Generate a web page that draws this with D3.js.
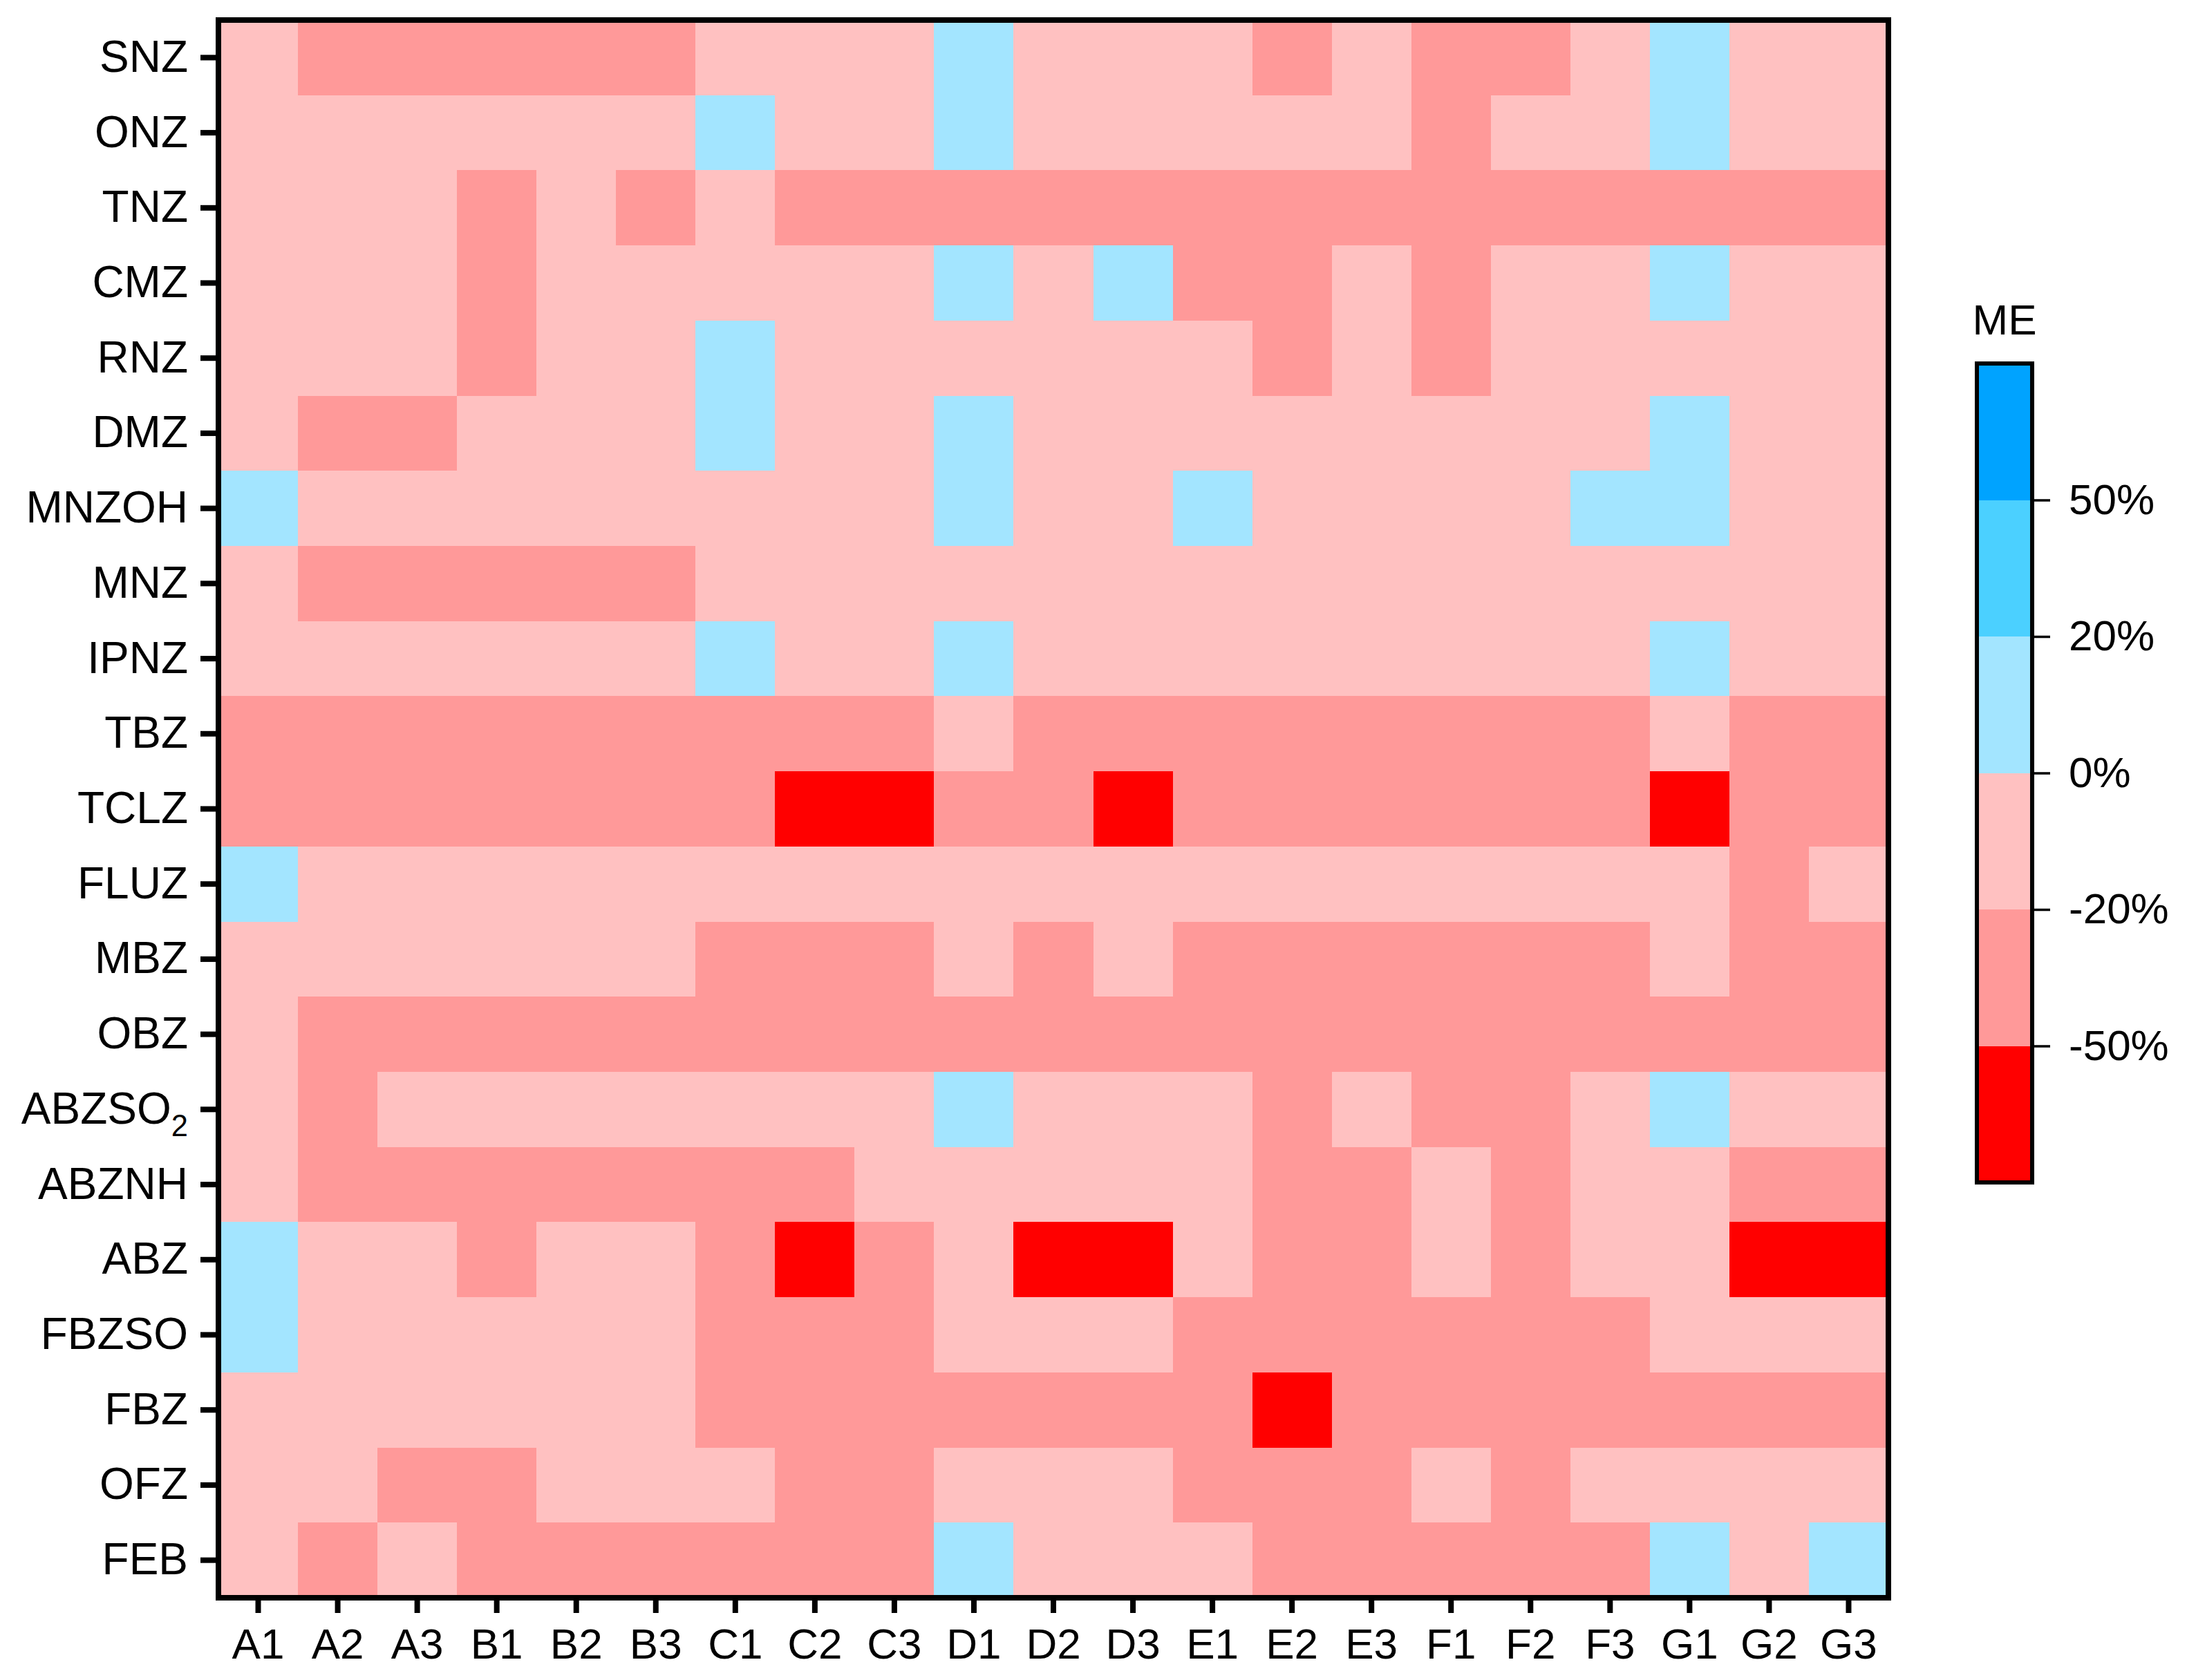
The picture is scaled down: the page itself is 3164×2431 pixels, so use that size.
<!DOCTYPE html>
<html>
<head>
<meta charset="utf-8">
<script src="https://cdn.jsdelivr.net/npm/d3@7"></script>
<style>
  html, body { margin: 0; padding: 0; background: #fff; }
  svg { display: block; }
  text { font-family: "Liberation Sans", Arial, sans-serif; fill: #000; }
</style>
</head>
<body>
<script>
// ---------- DATA ----------
const rowLabels = ["SNZ","ONZ","TNZ","CMZ","RNZ","DMZ","MNZOH","MNZ","IPNZ","TBZ","TCLZ",
                   "FLUZ","MBZ","OBZ","ABZSO2","ABZNH","ABZ","FBZSO","FBZ","OFZ","FEB"];
const colLabels = ["A1","A2","A3","B1","B2","B3","C1","C2","C3","D1","D2","D3",
                   "E1","E2","E3","F1","F2","F3","G1","G2","G3"];
// Matrix effect (%) estimated from the binned colours
const meValues = [
  [-10,-35,-35,-35,-35,-35,-10,-10,-10, 10,-10,-10,-10,-35,-10,-35,-35,-10, 10,-10,-10], // SNZ
  [-10,-10,-10,-10,-10,-10, 10,-10,-10, 10,-10,-10,-10,-10,-10,-35,-10,-10, 10,-10,-10], // ONZ
  [-10,-10,-10,-35,-10,-35,-10,-35,-35,-35,-35,-35,-35,-35,-35,-35,-35,-35,-35,-35,-35], // TNZ
  [-10,-10,-10,-35,-10,-10,-10,-10,-10, 10,-10, 10,-35,-35,-10,-35,-10,-10, 10,-10,-10], // CMZ
  [-10,-10,-10,-35,-10,-10, 10,-10,-10,-10,-10,-10,-10,-35,-10,-35,-10,-10,-10,-10,-10], // RNZ
  [-10,-35,-35,-10,-10,-10, 10,-10,-10, 10,-10,-10,-10,-10,-10,-10,-10,-10, 10,-10,-10], // DMZ
  [ 10,-10,-10,-10,-10,-10,-10,-10,-10, 10,-10,-10, 10,-10,-10,-10,-10, 10, 10,-10,-10], // MNZOH
  [-10,-35,-35,-35,-35,-35,-10,-10,-10,-10,-10,-10,-10,-10,-10,-10,-10,-10,-10,-10,-10], // MNZ
  [-10,-10,-10,-10,-10,-10, 10,-10,-10, 10,-10,-10,-10,-10,-10,-10,-10,-10, 10,-10,-10], // IPNZ
  [-35,-35,-35,-35,-35,-35,-35,-35,-35,-10,-35,-35,-35,-35,-35,-35,-35,-35,-10,-35,-35], // TBZ
  [-35,-35,-35,-35,-35,-35,-35,-60,-60,-35,-35,-60,-35,-35,-35,-35,-35,-35,-60,-35,-35], // TCLZ
  [ 10,-10,-10,-10,-10,-10,-10,-10,-10,-10,-10,-10,-10,-10,-10,-10,-10,-10,-10,-35,-10], // FLUZ
  [-10,-10,-10,-10,-10,-10,-35,-35,-35,-10,-35,-10,-35,-35,-35,-35,-35,-35,-10,-35,-35], // MBZ
  [-10,-35,-35,-35,-35,-35,-35,-35,-35,-35,-35,-35,-35,-35,-35,-35,-35,-35,-35,-35,-35], // OBZ
  [-10,-35,-10,-10,-10,-10,-10,-10,-10, 10,-10,-10,-10,-35,-10,-35,-35,-10, 10,-10,-10], // ABZSO2
  [-10,-35,-35,-35,-35,-35,-35,-35,-10,-10,-10,-10,-10,-35,-35,-10,-35,-10,-10,-35,-35], // ABZNH
  [ 10,-10,-10,-35,-10,-10,-35,-60,-35,-10,-60,-60,-10,-35,-35,-10,-35,-10,-10,-60,-60], // ABZ
  [ 10,-10,-10,-10,-10,-10,-35,-35,-35,-10,-10,-10,-35,-35,-35,-35,-35,-35,-10,-10,-10], // FBZSO
  [-10,-10,-10,-10,-10,-10,-35,-35,-35,-35,-35,-35,-35,-60,-35,-35,-35,-35,-35,-35,-35], // FBZ
  [-10,-10,-35,-35,-10,-10,-10,-35,-35,-10,-10,-10,-35,-35,-35,-10,-35,-10,-10,-10,-10], // OFZ
  [-10,-35,-10,-35,-35,-35,-35,-35,-35, 10,-10,-10,-10,-35,-35,-35,-35,-35, 10,-10, 10]  // FEB
];
const thresholds = [-50, -20, 0, 20, 50];
const thresholdLabels = ["-50%", "-20%", "0%", "20%", "50%"];
const binColors = ["#FF0000", "#FF9999", "#FFC1C1", "#A3E5FF", "#4BD0FF", "#00A3FF"];
const legendTitle = "ME";

// ---------- CHART ----------
const W = 3164, H = 2431;
const svg = d3.select("body").append("svg").attr("width", W).attr("height", H);
svg.append("rect").attr("width", W).attr("height", H).attr("fill", "#fff");

const plot = { left: 316, right: 2732, top: 29, bottom: 2312 };
const x = d3.scaleBand().domain(colLabels).range([plot.left, plot.right]).padding(0);
const y = d3.scaleBand().domain(rowLabels).range([plot.top, plot.bottom]).padding(0);
const color = d3.scaleThreshold().domain(thresholds).range(binColors);

const cells = [];
rowLabels.forEach((r, i) => colLabels.forEach((c, j) => cells.push({ r, c, v: meValues[i][j] })));

svg.append("g").selectAll("rect").data(cells).join("rect")
  .attr("x", d => x(d.c))
  .attr("y", d => y(d.r))
  .attr("width", x.bandwidth() + 0.6)
  .attr("height", y.bandwidth() + 0.6)
  .attr("fill", d => color(d.v))
  .attr("shape-rendering", "crispEdges");

const FS = 62, FSY = 64;

// Y axis
const gy = svg.append("g").attr("transform", `translate(${plot.left},0)`)
  .call(d3.axisLeft(y).tickSize(26).tickPadding(18));
gy.select(".domain").remove();
gy.selectAll(".tick line").attr("stroke", "#000").attr("stroke-width", 8);
gy.selectAll(".tick text").attr("font-size", FSY).style("font-family", "'Liberation Sans', Arial, sans-serif")
  .each(function(d) {
    const m = /^(.*?)(\d+)$/.exec(d);
    if (m) {
      const t = d3.select(this).text(null);
      t.append("tspan").text(m[1]);
      t.append("tspan").attr("font-size", FSY * 0.68).attr("dy", "0.42em").text(m[2]);
    }
  });

// X axis
const gx = svg.append("g").attr("transform", `translate(0,${plot.bottom})`)
  .call(d3.axisBottom(x).tickSize(22).tickPadding(22));
gx.select(".domain").remove();
gx.selectAll(".tick line").attr("stroke", "#000").attr("stroke-width", 8);
gx.selectAll(".tick text").attr("font-size", FS).style("font-family", "'Liberation Sans', Arial, sans-serif");

// Frame
svg.append("rect")
  .attr("x", plot.left).attr("y", plot.top)
  .attr("width", plot.right - plot.left).attr("height", plot.bottom - plot.top)
  .attr("fill", "none").attr("stroke", "#000").attr("stroke-width", 8);

// ---------- LEGEND ----------
const leg = { left: 2860, right: 2940, top: 526, bottom: 1711 };
const ly = d3.scaleLinear().domain([0, binColors.length]).range([leg.bottom, leg.top]);
svg.append("g").selectAll("rect").data(binColors).join("rect")
  .attr("x", leg.left).attr("width", leg.right - leg.left)
  .attr("y", (d, i) => ly(i + 1)).attr("height", (d, i) => ly(i) - ly(i + 1))
  .attr("fill", d => d).attr("shape-rendering", "crispEdges");
svg.append("rect")
  .attr("x", leg.left).attr("y", leg.top)
  .attr("width", leg.right - leg.left).attr("height", leg.bottom - leg.top)
  .attr("fill", "none").attr("stroke", "#000").attr("stroke-width", 6);

const lScale = d3.scalePoint().domain(thresholdLabels)
  .range([ly(1), ly(thresholds.length)]);
const gl = svg.append("g").attr("transform", `translate(${leg.right},0)`)
  .call(d3.axisRight(lScale).tickSize(26).tickPadding(27));
gl.select(".domain").remove();
gl.selectAll(".tick line").attr("stroke", "#000").attr("stroke-width", 3.5);
gl.selectAll(".tick text").attr("font-size", FS).style("font-family", "'Liberation Sans', Arial, sans-serif");

svg.append("text")
  .attr("x", (leg.left + leg.right) / 2).attr("y", 484)
  .attr("text-anchor", "middle").attr("font-size", FS)
  .text(legendTitle);
</script>
</body>
</html>
